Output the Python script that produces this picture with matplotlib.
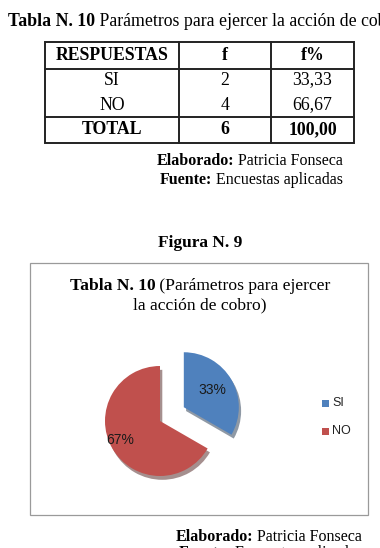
import matplotlib
matplotlib.use("Agg")
import matplotlib.pyplot as plt
from matplotlib.patches import Rectangle

# ---- data ----
table_header = ["RESPUESTAS", "f", "f%"]
categories = ["SI", "NO"]
freq = [2, 4]
pct_text = ["33,33", "66,67"]
total_row = ["TOTAL", "6", "100,00"]
pie_values = [33.33, 66.67]
pie_colors = ["#4F81BD", "#C0504D"]

W, H = 380, 548
fig = plt.figure(figsize=(W / 100, H / 100), dpi=100)
fig.patch.set_facecolor("white")
SERIF = "Liberation Serif"
SANS = "Liberation Sans"


def fx(x):
    return x / W


def fy(y):
    return 1 - y / H


def rich(parts, x, y, size, ha="left"):
    """parts: list of (text, weight). Draw consecutive text pieces."""
    r = fig.canvas.get_renderer()
    texts = []
    widths = []
    for s, w in parts:
        t = fig.text(0, 0, s, fontsize=size, fontweight=w, family=SERIF, va="center")
        bb = t.get_window_extent(renderer=r)
        texts.append(t)
        widths.append(bb.width)
    total = sum(widths)
    if ha == "center":
        x0 = x - total / 2
    elif ha == "right":
        x0 = x - total
    else:
        x0 = x
    cur = x0
    for t, wd in zip(texts, widths):
        t.set_position((fx(cur), fy(y)))
        cur += wd


# ---- top title ----
rich([("Tabla N. 10", "bold"), (" Parámetros para ejercer la acción de cobro", "normal")], 8, 22, 12.8)

# ---- table ----
tl, tr, tt, tb = 45, 354, 42, 143
tax = fig.add_axes([fx(tl), fy(tb), fx(tr) - fx(tl), (tb - tt) / H])
tax.set_xlim(tl, tr)
tax.set_ylim(tb, tt)
tax.axis("off")
col_x = [tl, 179, 271, tr]
row_y = [42, 69, 94, 117, 143]
lw = 1.4
tax.add_patch(Rectangle((tl, tt), tr - tl, tb - tt, fill=False, lw=lw, ec="#222222", clip_on=False))
for cx in col_x[1:-1]:
    tax.plot([cx, cx], [tt, tb], color="#222222", lw=lw, clip_on=False)
for ry in [row_y[1], row_y[3]]:
    tax.plot([tl, tr], [ry, ry], color="#222222", lw=lw, clip_on=False)
centers = [(col_x[i] + col_x[i + 1]) / 2 for i in range(3)]
ymid = [(row_y[i] + row_y[i + 1]) / 2 for i in range(4)]
row_text_y = [80, 105]
for i, h in enumerate(table_header):
    tax.text(centers[i], ymid[0], h, ha="center", va="center", fontsize=12.8, fontweight="bold", family=SERIF)
for r, (c, f, p) in enumerate(zip(categories, freq, pct_text)):
    for i, v in enumerate([c, str(f), p]):
        tax.text(centers[i], row_text_y[r], v, ha="center", va="center",
                 fontsize=12.8, family=SERIF)
for i, v in enumerate(total_row):
    tax.text(centers[i], ymid[3], v, ha="center", va="center", fontsize=12.8, fontweight="bold", family=SERIF)

rich([("Elaborado:", "bold"), (" Patricia Fonseca", "normal")], 343, 161, 11.5, ha="right")
rich([("Fuente:", "bold"), (" Encuestas aplicadas", "normal")], 343, 180, 11.5, ha="right")

rich([("Figura N. 9", "bold")], 200, 243, 12.5, ha="center")

# ---- chart box ----
fig.patches.append(Rectangle((fx(30), fy(515)), fx(368) - fx(30), (515 - 263) / H, fill=False,
                             ec="#9a9a9a", lw=0.9, transform=fig.transFigure, figure=fig))
rich([("Tabla N. 10", "bold"), (" (Parámetros para ejercer", "normal")], 200, 286, 12.6, ha="center")
rich([("la acción de cobro)", "normal")], 200, 305, 12.6, ha="center")

# ---- pie ----
pcx, pcy, R = 160, 421, 55
half = 90
pax = fig.add_axes([fx(pcx - half), fy(pcy + half), 2 * half / W, 2 * half / H])
pax.set_aspect("equal")
wedges, _ = pax.pie(pie_values, colors=pie_colors, startangle=90, counterclock=False,
                    explode=[0.5, 0.0], radius=1.0,
                    wedgeprops=dict(linewidth=0),
                    shadow=dict(ox=0.03, oy=-0.05, shade=0.6))
lim = half / R
pax.set_xlim(-lim, lim)
pax.set_ylim(-lim, lim)
pax.axis("off")
# percentage labels
lbl_pos = [(212, 390), (120, 440)]
for (lx, ly), v in zip(lbl_pos, pie_values):
    fig.text(fx(lx), fy(ly), f"{round(v):d}%", ha="center", va="center", fontsize=10, family=SANS,
             color="#1a1a1a")

# ---- legend ----
lg_y = [403, 431]
for cat, col, ly in zip(categories, pie_colors, lg_y):
    fig.patches.append(Rectangle((fx(322), fy(ly + 3.5)), 7 / W, 7 / H, fc=col, ec="none",
                                 transform=fig.transFigure, figure=fig))
    fig.text(fx(332), fy(ly), cat, ha="left", va="center", fontsize=9, family=SANS, color="#222222")

# ---- bottom caption ----
rich([("Elaborado:", "bold"), (" Patricia Fonseca", "normal")], 362, 537, 11.5, ha="right")
rich([("Fuente:", "bold"), (" Encuestas aplicadas", "normal")], 362, 553, 11.5, ha="right")

fig.savefig("out.png", dpi=100, facecolor="white")
